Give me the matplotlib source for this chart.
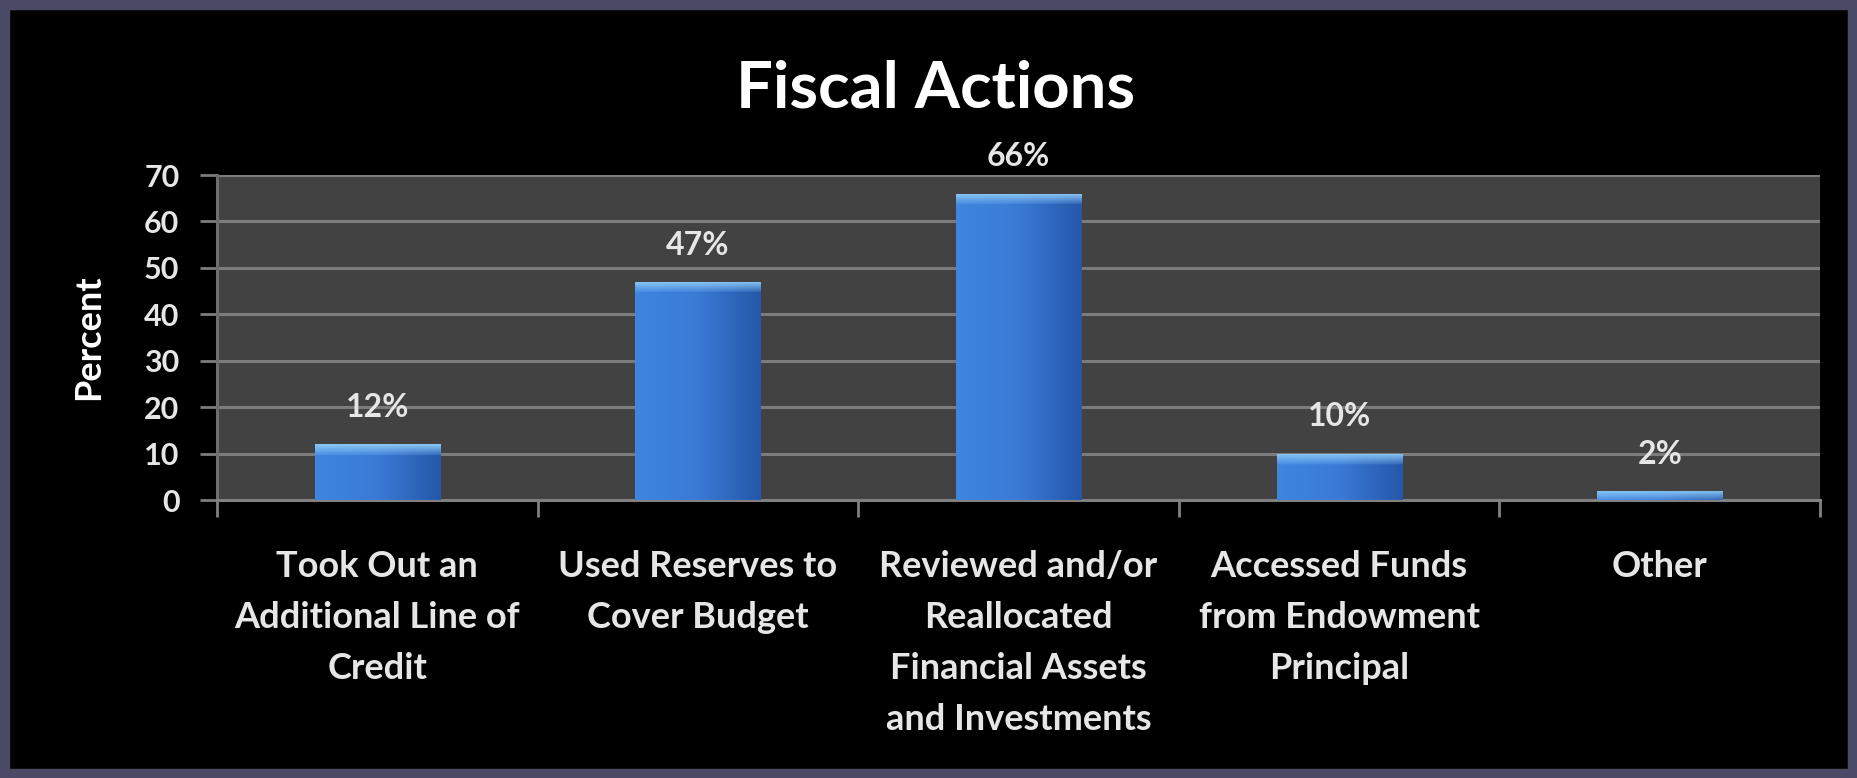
import numpy as np
import matplotlib
matplotlib.use("Agg")
import matplotlib.pyplot as plt
from matplotlib.patches import Rectangle
from matplotlib.colors import to_rgb

categories = ["Took Out an\nAdditional Line of\nCredit",
              "Used Reserves to\nCover Budget",
              "Reviewed and/or\nReallocated\nFinancial Assets\nand Investments",
              "Accessed Funds\nfrom Endowment\nPrincipal",
              "Other"]
values = [12, 47, 66, 10, 2]
labels = ["12%", "47%", "66%", "10%", "2%"]
yticks = [0, 10, 20, 30, 40, 50, 60, 70]

FONT = ["Lato", "DejaVu Sans"]
plt.rcParams['font.family'] = FONT

fig = plt.figure(figsize=(18.57, 7.78), dpi=100, facecolor="black")
# frame border
fig.patches.append(Rectangle((0, 0), 1, 1, transform=fig.transFigure,
                             facecolor="none", edgecolor="#4a4966", linewidth=14, zorder=0))

ax = fig.add_axes([0.1168, 0.3573, 0.8633, 0.4177])
ax.set_facecolor("#424242")
x = np.arange(len(categories))
bars = ax.bar(x, values, width=0.39, color="#3a7ad6", zorder=3)

ax.set_xlim(-0.5, len(categories) - 0.5)
ax.set_ylim(0, 70)
ax.set_yticks(yticks)
ax.set_yticklabels([str(t) for t in yticks], fontsize=22, color="#e6e6e6", fontweight="bold")
ax.yaxis.grid(True, color="#7c7c7c", linewidth=2.2, zorder=1)
ax.set_axisbelow(True)
for s in ["top", "right"]:
    ax.spines[s].set_visible(False)
ax.spines["left"].set_color("#6e6e6e")
ax.spines["left"].set_linewidth(2.2)
ax.spines["bottom"].set_color("#808080")
ax.spines["bottom"].set_linewidth(2.2)
ax.tick_params(axis="y", length=12, width=2, color="#7c7c7c", pad=15)

# category boundaries as tick marks
ax.set_xticks(np.arange(-0.5, len(categories) + 0.5, 1.0))
ax.set_xticklabels([])
ax.tick_params(axis="x", length=12, width=2, color="#808080")
for xi, cat in zip(x, categories):
    ax.annotate(cat, xy=(xi, 0), xycoords=("data", "axes fraction"),
                xytext=(0, -36), textcoords="offset points",
                ha="center", va="top", fontsize=26, color="#e6e6e6",
                fontweight="bold", linespacing=1.67)

ax.set_ylabel("Percent", fontsize=26, color="white", fontweight="bold", labelpad=28)

# gradient fill for bars
left_c = np.array(to_rgb("#3f86e0"))
mid_c = np.array(to_rgb("#3a7ad6"))
right_c = np.array(to_rgb("#2558aa"))
hi_c = np.array(to_rgb("#8cc8f6"))
for b, v in zip(bars, values):
    bx, bw = b.get_x(), b.get_width()
    nr, nc = 300, 60
    t = np.linspace(0, 1, nc)
    row = np.where(t[:, None] < 0.5,
                   left_c + (mid_c - left_c) * (t[:, None] / 0.5),
                   mid_c + (right_c - mid_c) * ((t[:, None] - 0.5) / 0.5))
    img = np.repeat(row[None, :, :], nr, axis=0)
    frac = min(1.0, 2.4 / v)
    nh = max(1, int(round(frac * nr)))
    fade = np.linspace(1.0, 0.15, nh)[:, None, None]
    img[:nh] = img[:nh] * (1 - fade) + hi_c * fade
    im = ax.imshow(img, extent=[bx, bx + bw, 0, v], origin="upper",
                   aspect="auto", zorder=4)
    im.set_clip_path(b)

for xi, v, lbl in zip(x, values, labels):
    ax.annotate(lbl, xy=(xi, v), xytext=(0, 16), textcoords="offset points",
                ha="center", va="bottom", fontsize=23, color="#e6e6e6",
                fontweight="bold", zorder=5)

ax.set_xlim(-0.5, len(categories) - 0.5)
ax.set_ylim(0, 70)

fig.text(0.504, 0.885, "Fiscal Actions", ha="center", va="center",
         fontsize=47, fontweight="bold", color="white")

fig.savefig("out.png", dpi=100, facecolor="black")
